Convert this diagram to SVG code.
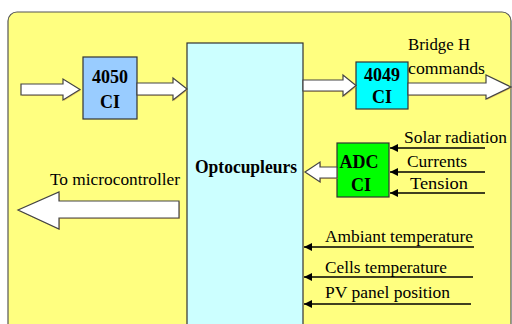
<svg xmlns="http://www.w3.org/2000/svg" width="512" height="324" viewBox="0 0 512 324">
<defs>
<style>
.box{stroke:#333;stroke-width:1.2}
.blk{font-family:"Liberation Serif","Times New Roman",serif;font-weight:bold;font-size:18px;fill:#000;text-anchor:middle}
.lbl{font-family:"Liberation Serif","Times New Roman",serif;font-size:17px;fill:#000}
.barrow{fill:#fff;stroke:#444;stroke-width:1.2;stroke-linejoin:miter}
.shadow{fill:#d8a040;opacity:0.55}
.wire{stroke:#000;stroke-width:1.4;fill:none;marker-end:url(#ah)}
</style>
<marker id="ah" viewBox="0 0 10 10" refX="10" refY="5" markerWidth="8" markerHeight="8" orient="auto" markerUnits="userSpaceOnUse">
<path d="M0,0 L10,5 L0,10 Z" fill="#000"/>
</marker>
</defs>
<rect x="0" y="0" width="512" height="324" fill="#fff"/>
<g id="frame">
<rect x="8" y="12" width="503" height="330" rx="9" fill="#ffff80" stroke="#555" stroke-width="1.2"/>
</g>
<g id="optocoupleurs">
<rect class="box" x="187" y="43" width="116" height="290" fill="#ccffff"/>
<text class="blk" x="246" y="173" textLength="102" lengthAdjust="spacingAndGlyphs">Optocupleurs</text>
</g>
<g id="ci4050">
<rect class="box" x="83" y="57" width="54" height="62" fill="#99ccff"/>
<text class="blk" x="110" y="83">4050</text>
<text class="blk" x="110" y="108">CI</text>
</g>
<g id="ci4049">
<rect class="box" x="356" y="62" width="52" height="47" fill="#00ffff"/>
<text class="blk" x="382" y="81">4049</text>
<text class="blk" x="382" y="103">CI</text>
</g>
<g id="adc">
<rect class="box" x="337" y="143" width="52" height="54" fill="#00ff00"/>
<text class="blk" x="359" y="168">ADC</text>
<text class="blk" x="361" y="191">CI</text>
</g>
<g id="connectors">
<g transform="translate(1,1)">
<path class="shadow" d="M21,84 H63 V79 L80,89.5 L63,100 V95 H21 Z"/>
<path class="shadow" d="M137,83 H173 V78 L187,89 L173,100 V95 H137 Z"/>
<path class="shadow" d="M303,80 H343 V75 L356,85.5 L343,96 V91 H303 Z"/>
<path class="shadow" d="M408,83 H486 V75 L511,87 L486,99 V95 H408 Z"/>
<path class="shadow" d="M337,167 H320 V162 L305,172 L320,182 V178 H337 Z"/>
<path class="shadow" d="M179,201 H59 V192 L18,210 L59,229 V218 H179 Z"/>
</g>
<path class="barrow" d="M21,84 H63 V79 L80,89.5 L63,100 V95 H21 Z"/>
<path class="barrow" d="M137,83 H173 V78 L187,89 L173,100 V95 H137 Z"/>
<path class="barrow" d="M303,80 H343 V75 L356,85.5 L343,96 V91 H303 Z"/>
<path class="barrow" d="M408,83 H486 V75 L511,87 L486,99 V95 H408 Z"/>
<path class="barrow" d="M337,167 H320 V162 L305,172 L320,182 V178 H337 Z"/>
<path class="barrow" d="M179,201 H59 V192 L18,210 L59,229 V218 H179 Z"/>
<line class="wire" x1="485" y1="148" x2="390" y2="148"/>
<line class="wire" x1="485" y1="172" x2="390" y2="172"/>
<line class="wire" x1="485" y1="193" x2="390" y2="193"/>
<line class="wire" x1="474" y1="247" x2="304" y2="247"/>
<line class="wire" x1="473" y1="277" x2="304" y2="277"/>
<line class="wire" x1="471" y1="304" x2="304" y2="304"/>
</g>
<g id="labels">
<text class="lbl" x="408" y="50" textLength="62" lengthAdjust="spacingAndGlyphs">Bridge H</text>
<text class="lbl" x="408" y="74" textLength="77" lengthAdjust="spacingAndGlyphs">commands</text>
<text class="lbl" x="404" y="143" textLength="103" lengthAdjust="spacingAndGlyphs">Solar radiation</text>
<text class="lbl" x="407" y="167" textLength="60" lengthAdjust="spacingAndGlyphs">Currents</text>
<text class="lbl" x="410" y="189" textLength="58" lengthAdjust="spacingAndGlyphs">Tension</text>
<text class="lbl" x="50" y="185" textLength="130" lengthAdjust="spacingAndGlyphs">To microcontroller</text>
<text class="lbl" x="325" y="242" textLength="148" lengthAdjust="spacingAndGlyphs">Ambiant temperature</text>
<text class="lbl" x="325" y="273" textLength="122" lengthAdjust="spacingAndGlyphs">Cells temperature</text>
<text class="lbl" x="325" y="298" textLength="125" lengthAdjust="spacingAndGlyphs">PV panel position</text>
</g>
</svg>
